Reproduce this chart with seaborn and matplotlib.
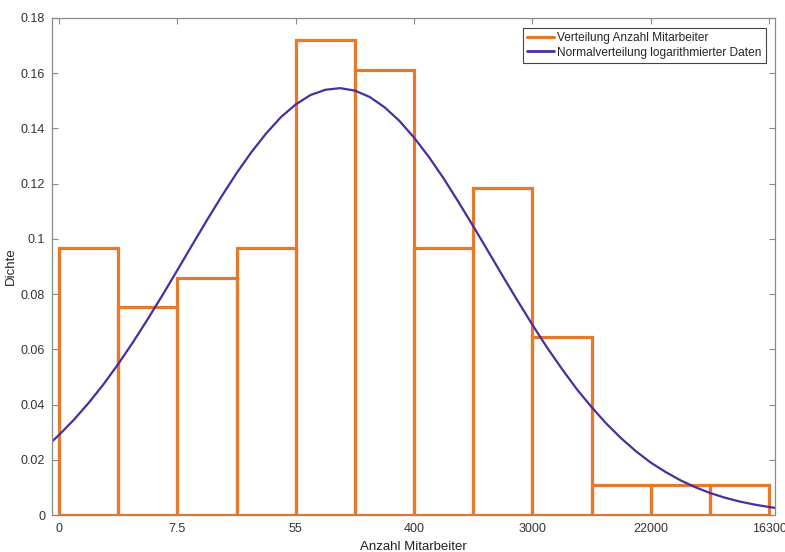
import numpy as np
import pandas as pd
import matplotlib
matplotlib.use("Agg")
import matplotlib.pyplot as plt
import seaborn as sns
from matplotlib.ticker import FormatStrFormatter

# Histogram of log-transformed employee counts (density, bin width 1)
bin_edges = [0, 1, 2, 3, 4, 5, 6, 7, 8, 9, 10, 11, 12]
bin_density = [0.0968, 0.0753, 0.0860, 0.0968, 0.1720, 0.1613,
               0.0968, 0.1183, 0.0645, 0.0108, 0.0108, 0.0108]

# Fitted normal curve
curve_x = [-0.12, 0.0, 0.25, 0.5, 0.75, 1.0, 1.25, 1.5, 1.75, 2.0, 2.25,
           2.5, 2.75, 3.0, 3.25, 3.5, 3.75, 4.0, 4.25, 4.5, 4.75, 5.0,
           5.25, 5.5, 5.75, 6.0, 6.25, 6.5, 6.75, 7.0, 7.25, 7.5, 7.75,
           8.0, 8.25, 8.5, 8.75, 9.0, 9.25, 9.5, 9.75, 10.0, 10.25, 10.5,
           10.75, 11.0, 11.25, 11.5, 11.75, 12.0, 12.1]
curve_y = [0.0266, 0.0290, 0.0345, 0.0406, 0.0473, 0.0547, 0.0626, 0.0710,
           0.0797, 0.0887, 0.0978, 0.1068, 0.1155, 0.1238, 0.1314, 0.1382,
           0.1441, 0.1487, 0.1521, 0.1540, 0.1546, 0.1537, 0.1514, 0.1477,
           0.1428, 0.1367, 0.1297, 0.1219, 0.1134, 0.1046, 0.0956, 0.0865,
           0.0776, 0.0689, 0.0606, 0.0529, 0.0456, 0.0391, 0.0331, 0.0278,
           0.0231, 0.0190, 0.0156, 0.0126, 0.0101, 0.0080, 0.0063, 0.0049,
           0.0038, 0.0029, 0.0026]

tick_pos = [0, 2, 4, 6, 8, 10, 12]
tick_labels = ["0", "7.5", "55", "400", "3000", "22000", "16300"]

ORANGE = "#E8792A"
PURPLE = "#4A2DA0"
GRAY = "#8a8a8a"

sns.set_style("white")
plt.rcParams["font.family"] = ["Liberation Sans", "DejaVu Sans"]

hist_df = pd.DataFrame({
    "center": [(a + b) / 2 for a, b in zip(bin_edges[:-1], bin_edges[1:])],
    "density": bin_density,
})
curve_df = pd.DataFrame({"x": curve_x, "y": curve_y})

fig = plt.figure(figsize=(7.85, 5.52), dpi=100)
ax = fig.add_axes([0.0662, 0.0670, 0.9210, 0.9004])

sns.histplot(data=hist_df, x="center", weights="density", bins=bin_edges,
             element="bars", fill=False, color=ORANGE, linewidth=2.3,
             ax=ax)
sns.lineplot(data=curve_df, x="x", y="y", color=PURPLE, linewidth=1.6,
             ax=ax)

ax.set_xlim(-0.12, 12.1)
ax.set_ylim(0, 0.18)
ax.set_xticks(tick_pos)
ax.set_xticklabels(tick_labels)
ax.set_yticks(np.arange(0, 0.181, 0.02))
ax.yaxis.set_major_formatter(FormatStrFormatter("%g"))

ax.tick_params(direction="in", length=4, width=0.8, color=GRAY,
               labelcolor="#333333", labelsize=9,
               top=True, right=True, bottom=True, left=True)
ax.tick_params(axis="x", pad=6)
ax.tick_params(axis="y", pad=5)
for s in ax.spines.values():
    s.set_visible(True)
    s.set_color(GRAY)
    s.set_linewidth(0.9)

ax.set_xlabel("Anzahl Mitarbeiter", fontsize=9.5, color="#222222", labelpad=4)
ax.set_ylabel("Dichte", fontsize=9.5, color="#222222", labelpad=3)

handles = [plt.Line2D([], [], color=ORANGE, linewidth=2.3),
           plt.Line2D([], [], color=PURPLE, linewidth=2.0)]
leg = ax.legend(handles, ["Verteilung Anzahl Mitarbeiter",
                          "Normalverteilung logarithmierter Daten"],
                loc="upper right", bbox_to_anchor=(0.9875, 0.980),
                fontsize=8.6, frameon=True, fancybox=False, framealpha=1,
                edgecolor="#444444", borderpad=0.35, handlelength=2.3,
                handletextpad=0.25, labelspacing=0.2, borderaxespad=0)
leg.get_frame().set_linewidth(0.8)

fig.savefig("out.png", dpi=100)
plt.close(fig)
